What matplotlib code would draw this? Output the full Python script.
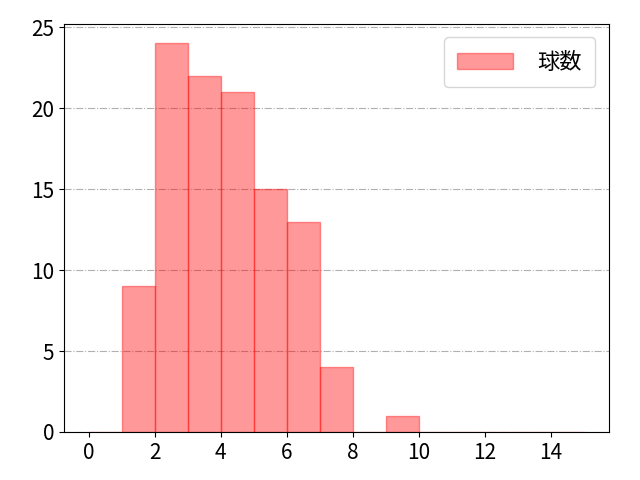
import matplotlib
matplotlib.use('Agg')
import matplotlib.pyplot as plt
import numpy as np

plt.rcParams['font.family'] = ['Noto Sans CJK JP', 'DejaVu Sans']
plt.rcParams['font.size'] = 15

# histogram bins and counts
bin_edges = list(range(0, 16))
counts = [0, 9, 24, 22, 21, 15, 13, 4, 0, 1, 0, 0, 0, 0, 0]
label = '球数'

fig, ax = plt.subplots(figsize=(6.4, 4.8), dpi=100)
fig.subplots_adjust(left=0.1, right=0.951, top=0.95, bottom=0.1)
ax.hist(bin_edges[:-1], bins=bin_edges, weights=counts,
        color='red', alpha=0.4, edgecolor='red', linewidth=1.0,
        label=label)
ax.grid(axis='y', linestyle='-.', color='#b0b0b0', linewidth=0.8)
ax.set_axisbelow(True)
ax.set_xticks(range(0, 16, 2))
ax.legend(loc='upper right', handlelength=2.5, borderpad=0.6, fontsize=16,
          borderaxespad=0.6, handletextpad=1.1)
fig.savefig('out.png')
